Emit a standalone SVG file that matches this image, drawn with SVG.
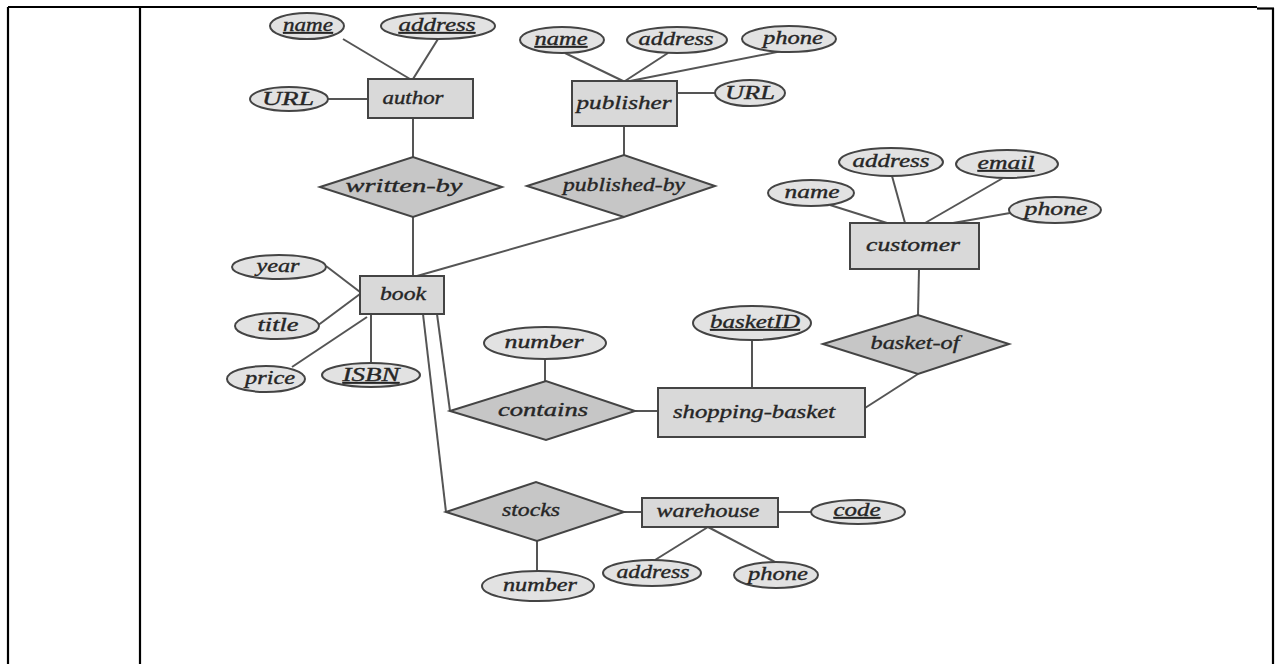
<svg xmlns="http://www.w3.org/2000/svg" width="1276" height="664" viewBox="0 0 1276 664">
<style>
.frame{stroke:#000;stroke-width:2.2;fill:none}
.ent{fill:#d9d9d9;stroke:#444;stroke-width:2}
.rel{fill:#c6c6c6;stroke:#444;stroke-width:2}
.att{fill:#e2e2e2;stroke:#444;stroke-width:2}
.ln{stroke:#555;stroke-width:2;fill:none}
text{font-family:"Liberation Serif","Times New Roman",serif;font-style:italic;font-size:18px;fill:#262626;stroke:#262626;stroke-width:0.35;text-anchor:middle}
.k{text-decoration:underline}
</style>
<rect width="1276" height="664" fill="#fff"/>
<g id="frame">
<line class="frame" x1="8" y1="7" x2="1257" y2="7"/>
<line class="frame" x1="1257" y1="8.5" x2="1274" y2="8.5"/>
<line class="frame" x1="8" y1="7" x2="8" y2="664"/>
<line class="frame" x1="140" y1="7" x2="140" y2="664"/>
<line class="frame" x1="1273" y1="8" x2="1273" y2="664"/>
</g>
<g id="connectors">
<line class="ln" x1="343" y1="39" x2="410" y2="79"/>
<line class="ln" x1="438" y1="39" x2="413" y2="79"/>
<line class="ln" x1="328" y1="99" x2="368" y2="99"/>
<line class="ln" x1="413" y1="118" x2="413" y2="157"/>
<line class="ln" x1="413" y1="217" x2="413" y2="276"/>
<line class="ln" x1="565" y1="53" x2="623" y2="81"/>
<line class="ln" x1="668" y1="53" x2="625" y2="81"/>
<line class="ln" x1="782" y1="51" x2="630" y2="81"/>
<line class="ln" x1="677" y1="93" x2="716" y2="93"/>
<line class="ln" x1="624" y1="126" x2="624" y2="155"/>
<line class="ln" x1="624" y1="217" x2="417" y2="276"/>
<line class="ln" x1="830" y1="205" x2="887" y2="223"/>
<line class="ln" x1="892" y1="176" x2="905" y2="223"/>
<line class="ln" x1="1003" y1="178" x2="925" y2="223"/>
<line class="ln" x1="1010" y1="213" x2="953" y2="223"/>
<line class="ln" x1="919" y1="269" x2="918" y2="315"/>
<line class="ln" x1="918" y1="374" x2="865" y2="408"/>
<line class="ln" x1="752" y1="340" x2="752" y2="388"/>
<line class="ln" x1="635" y1="411" x2="658" y2="411"/>
<line class="ln" x1="545" y1="359" x2="545" y2="381"/>
<line class="ln" x1="437" y1="314" x2="450" y2="411"/>
<line class="ln" x1="423" y1="314" x2="446" y2="512"/>
<line class="ln" x1="326" y1="266" x2="360" y2="292"/>
<line class="ln" x1="317" y1="326" x2="360" y2="294"/>
<line class="ln" x1="292" y1="367" x2="367" y2="317"/>
<line class="ln" x1="371" y1="363" x2="371" y2="314"/>
<line class="ln" x1="624" y1="512" x2="642" y2="512"/>
<line class="ln" x1="778" y1="512" x2="811" y2="512"/>
<line class="ln" x1="708" y1="527" x2="655" y2="560"/>
<line class="ln" x1="708" y1="527" x2="775" y2="562"/>
<line class="ln" x1="537" y1="541" x2="537" y2="571"/>
</g>
<g id="author"><rect class="ent" x="368" y="79" width="105" height="39"/><text x="413" y="104" textLength="61" lengthAdjust="spacingAndGlyphs">author</text></g>
<g id="author-name"><ellipse class="att" cx="307" cy="26" rx="37" ry="13"/><text class="k" x="308" y="31" textLength="50" lengthAdjust="spacingAndGlyphs">name</text></g>
<g id="author-address"><ellipse class="att" cx="438" cy="26" rx="57" ry="13"/><text class="k" x="437" y="31" textLength="77" lengthAdjust="spacingAndGlyphs">address</text></g>
<g id="author-url"><ellipse class="att" cx="289" cy="99" rx="39" ry="12"/><text x="288" y="105" textLength="52" lengthAdjust="spacingAndGlyphs">URL</text></g>
<g id="written-by"><polygon class="rel" points="320,187 413,157 502,187 413,217"/><text x="404" y="192" textLength="117" lengthAdjust="spacingAndGlyphs">written-by</text></g>
<g id="publisher"><rect class="ent" x="572" y="81" width="105" height="45"/><text x="624" y="109" textLength="95" lengthAdjust="spacingAndGlyphs">publisher</text></g>
<g id="publisher-name"><ellipse class="att" cx="562" cy="40" rx="42" ry="13"/><text class="k" x="561" y="45" textLength="53" lengthAdjust="spacingAndGlyphs">name</text></g>
<g id="publisher-address"><ellipse class="att" cx="677" cy="40" rx="50" ry="13"/><text x="676" y="45" textLength="75" lengthAdjust="spacingAndGlyphs">address</text></g>
<g id="publisher-phone"><ellipse class="att" cx="789" cy="39" rx="47" ry="13"/><text x="793" y="44" textLength="60" lengthAdjust="spacingAndGlyphs">phone</text></g>
<g id="publisher-url"><ellipse class="att" cx="750" cy="93" rx="35" ry="13"/><text x="750" y="99" textLength="50" lengthAdjust="spacingAndGlyphs">URL</text></g>
<g id="published-by"><polygon class="rel" points="527,186 624,155 715,186 624,217"/><text x="624" y="191" textLength="122" lengthAdjust="spacingAndGlyphs">published-by</text></g>
<g id="customer"><rect class="ent" x="850" y="223" width="129" height="46"/><text x="913" y="251" textLength="94" lengthAdjust="spacingAndGlyphs">customer</text></g>
<g id="customer-name"><ellipse class="att" cx="811" cy="193" rx="43" ry="13"/><text x="812" y="198" textLength="55" lengthAdjust="spacingAndGlyphs">name</text></g>
<g id="customer-address"><ellipse class="att" cx="891" cy="162" rx="52" ry="14"/><text x="891" y="167" textLength="77" lengthAdjust="spacingAndGlyphs">address</text></g>
<g id="customer-email"><ellipse class="att" cx="1007" cy="164" rx="51" ry="14"/><text class="k" x="1006" y="169" textLength="57" lengthAdjust="spacingAndGlyphs">email</text></g>
<g id="customer-phone"><ellipse class="att" cx="1055" cy="210" rx="46" ry="13"/><text x="1056" y="215" textLength="63" lengthAdjust="spacingAndGlyphs">phone</text></g>
<g id="basket-of"><polygon class="rel" points="823,344 918,315 1009,344 918,374"/><text x="915" y="349" textLength="89" lengthAdjust="spacingAndGlyphs">basket-of</text></g>
<g id="shopping-basket"><rect class="ent" x="658" y="388" width="207" height="49"/><text x="754" y="418" textLength="162" lengthAdjust="spacingAndGlyphs">shopping-basket</text></g>
<g id="basketID"><ellipse class="att" cx="752" cy="323" rx="59" ry="17"/><text class="k" x="755" y="328" textLength="90" lengthAdjust="spacingAndGlyphs">basketID</text></g>
<g id="book"><rect class="ent" x="360" y="276" width="84" height="38"/><text x="403" y="300" textLength="46" lengthAdjust="spacingAndGlyphs">book</text></g>
<g id="book-year"><ellipse class="att" cx="279" cy="267" rx="47" ry="12"/><text x="278" y="272" textLength="43" lengthAdjust="spacingAndGlyphs">year</text></g>
<g id="book-title"><ellipse class="att" cx="277" cy="326" rx="42" ry="13"/><text x="278" y="331" textLength="41" lengthAdjust="spacingAndGlyphs">title</text></g>
<g id="book-price"><ellipse class="att" cx="266" cy="379" rx="39" ry="13"/><text x="270" y="384" textLength="50" lengthAdjust="spacingAndGlyphs">price</text></g>
<g id="book-isbn"><ellipse class="att" cx="371" cy="375" rx="49" ry="12"/><text class="k" x="371" y="381" textLength="57" lengthAdjust="spacingAndGlyphs">ISBN</text></g>
<g id="contains"><polygon class="rel" points="450,411 546,381 635,411 546,440"/><text x="543" y="416" textLength="90" lengthAdjust="spacingAndGlyphs">contains</text></g>
<g id="contains-number"><ellipse class="att" cx="545" cy="343" rx="61" ry="16"/><text x="544" y="348" textLength="79" lengthAdjust="spacingAndGlyphs">number</text></g>
<g id="stocks"><polygon class="rel" points="446,512 536,482 624,512 537,541"/><text x="531" y="516" textLength="58" lengthAdjust="spacingAndGlyphs">stocks</text></g>
<g id="stocks-number"><ellipse class="att" cx="538" cy="586" rx="56" ry="15"/><text x="540" y="591" textLength="74" lengthAdjust="spacingAndGlyphs">number</text></g>
<g id="warehouse"><rect class="ent" x="642" y="498" width="136" height="29"/><text x="708" y="517" textLength="103" lengthAdjust="spacingAndGlyphs">warehouse</text></g>
<g id="warehouse-code"><ellipse class="att" cx="858" cy="512" rx="47" ry="12"/><text class="k" x="857" y="516" textLength="47" lengthAdjust="spacingAndGlyphs">code</text></g>
<g id="warehouse-address"><ellipse class="att" cx="652" cy="573" rx="49" ry="13"/><text x="653" y="578" textLength="73" lengthAdjust="spacingAndGlyphs">address</text></g>
<g id="warehouse-phone"><ellipse class="att" cx="776" cy="575" rx="42" ry="13"/><text x="778" y="580" textLength="60" lengthAdjust="spacingAndGlyphs">phone</text></g>
</svg>
